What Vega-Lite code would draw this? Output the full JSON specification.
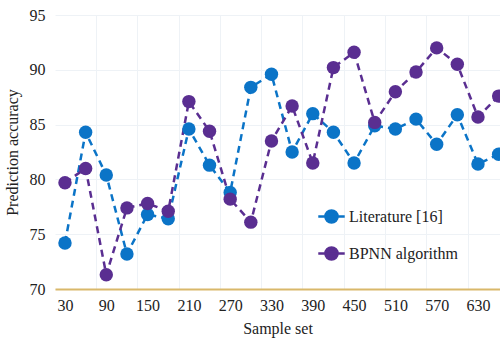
{
  "$schema": "https://vega.github.io/schema/vega-lite/v6.json",
  "width": 445,
  "height": 274,
  "autosize": {"type": "none"},
  "padding": {"left": 55, "top": 15, "right": 0, "bottom": 54},
  "background": "white",
  "config": {
    "view": {"stroke": null},
    "axis": {"labelColor": "#222", "titleColor": "#222", "titleFontWeight": "normal", "gridColor": "#eef2f6", "gridWidth": 1}
  },
  "data": {
    "values": [
      {"s": 30, "series": "Literature [16]", "v": 74.2},
      {"s": 60, "series": "Literature [16]", "v": 84.3},
      {"s": 90, "series": "Literature [16]", "v": 80.4},
      {"s": 120, "series": "Literature [16]", "v": 73.2},
      {"s": 150, "series": "Literature [16]", "v": 76.8},
      {"s": 180, "series": "Literature [16]", "v": 76.4},
      {"s": 210, "series": "Literature [16]", "v": 84.6},
      {"s": 240, "series": "Literature [16]", "v": 81.3},
      {"s": 270, "series": "Literature [16]", "v": 78.8},
      {"s": 300, "series": "Literature [16]", "v": 88.4},
      {"s": 330, "series": "Literature [16]", "v": 89.6},
      {"s": 360, "series": "Literature [16]", "v": 82.5},
      {"s": 390, "series": "Literature [16]", "v": 86.0},
      {"s": 420, "series": "Literature [16]", "v": 84.3},
      {"s": 450, "series": "Literature [16]", "v": 81.5},
      {"s": 480, "series": "Literature [16]", "v": 84.9},
      {"s": 510, "series": "Literature [16]", "v": 84.6},
      {"s": 540, "series": "Literature [16]", "v": 85.5},
      {"s": 570, "series": "Literature [16]", "v": 83.2},
      {"s": 600, "series": "Literature [16]", "v": 85.9},
      {"s": 630, "series": "Literature [16]", "v": 81.4},
      {"s": 660, "series": "Literature [16]", "v": 82.3},
      {"s": 30, "series": "BPNN algorithm", "v": 79.7},
      {"s": 60, "series": "BPNN algorithm", "v": 81.0},
      {"s": 90, "series": "BPNN algorithm", "v": 71.3},
      {"s": 120, "series": "BPNN algorithm", "v": 77.4},
      {"s": 150, "series": "BPNN algorithm", "v": 77.8},
      {"s": 180, "series": "BPNN algorithm", "v": 77.1},
      {"s": 210, "series": "BPNN algorithm", "v": 87.1},
      {"s": 240, "series": "BPNN algorithm", "v": 84.4},
      {"s": 270, "series": "BPNN algorithm", "v": 78.2},
      {"s": 300, "series": "BPNN algorithm", "v": 76.1},
      {"s": 330, "series": "BPNN algorithm", "v": 83.5},
      {"s": 360, "series": "BPNN algorithm", "v": 86.7},
      {"s": 390, "series": "BPNN algorithm", "v": 81.5},
      {"s": 420, "series": "BPNN algorithm", "v": 90.2},
      {"s": 450, "series": "BPNN algorithm", "v": 91.6},
      {"s": 480, "series": "BPNN algorithm", "v": 85.2},
      {"s": 510, "series": "BPNN algorithm", "v": 88.0},
      {"s": 540, "series": "BPNN algorithm", "v": 89.8},
      {"s": 570, "series": "BPNN algorithm", "v": 92.0},
      {"s": 600, "series": "BPNN algorithm", "v": 90.5},
      {"s": 630, "series": "BPNN algorithm", "v": 85.7},
      {"s": 660, "series": "BPNN algorithm", "v": 87.6}
    ]
  },
  "resolve": {"axis": {"x": "independent"}},
  "layer": [
    {
      "mark": {"type": "line", "strokeDash": [7, 5], "strokeWidth": 2.5, "clip": true},
      "encoding": {
        "x": {"field": "s", "type": "quantitative", "scale": {"domain": [15.5, 662], "nice": false, "zero": false},
          "axis": {"orient": "bottom", "values": [15, 75, 135, 195, 255, 315, 375, 435, 495, 555, 615], "labels": false, "ticks": false, "domain": false, "title": null, "grid": true}},
        "y": {"field": "v", "type": "quantitative", "scale": {"domain": [70, 95], "nice": false, "zero": false},
          "axis": {"values": [70, 75, 80, 85, 90, 95], "title": "Prediction accuracy", "domain": false, "ticks": false, "labelPadding": 10, "titlePadding": 9, "grid": true, "labelFont": "Liberation Serif", "titleFont": "Liberation Serif", "labelFontSize": 16, "titleFontSize": 16}},
        "color": {"field": "series", "type": "nominal",
          "scale": {"domain": ["Literature [16]", "BPNN algorithm"], "range": ["#0b74c7", "#5a2e91"]},
          "legend": {"title": null, "orient": "none", "legendX": 262, "legendY": 187, "labelFont": "Liberation Serif", "labelFontSize": 16, "labelColor": "#222", "rowPadding": 11, "symbolType": "M-1,0H1M0.46,0A0.46,0.46,0,1,1,-0.46,0A0.46,0.46,0,1,1,0.46,0Z", "symbolSize": 700, "symbolStrokeWidth": 2.5, "labelOffset": 3,
            "encode": {"symbols": {"update": {"fill": {"scale": "color", "field": "value"}, "stroke": {"scale": "color", "field": "value"}, "strokeDash": {"value": []}}}}}
        }
      }
    },
    {
      "mark": {"type": "point", "filled": true, "size": 180, "opacity": 1, "clip": true},
      "encoding": {
        "x": {"field": "s", "type": "quantitative",
          "axis": {"orient": "bottom", "values": [30, 90, 150, 210, 270, 330, 390, 450, 510, 570, 630], "title": "Sample set", "grid": false, "ticks": false, "domainColor": "#d9b86a", "domainWidth": 2, "labelPadding": 8, "titlePadding": 7, "labelFont": "Liberation Serif", "titleFont": "Liberation Serif", "labelFontSize": 16, "titleFontSize": 16}},
        "y": {"field": "v", "type": "quantitative"},
        "color": {"field": "series", "type": "nominal",
          "legend": {"title": null, "orient": "none", "legendX": 262, "legendY": 187, "labelFont": "Liberation Serif", "labelFontSize": 16, "labelColor": "#222", "rowPadding": 11, "symbolType": "M-1,0H1M0.46,0A0.46,0.46,0,1,1,-0.46,0A0.46,0.46,0,1,1,0.46,0Z", "symbolSize": 700, "symbolStrokeWidth": 2.5, "labelOffset": 3,
            "encode": {"symbols": {"update": {"fill": {"scale": "color", "field": "value"}, "stroke": {"scale": "color", "field": "value"}, "strokeDash": {"value": []}}}}}
        }
      }
    }
  ]
}
